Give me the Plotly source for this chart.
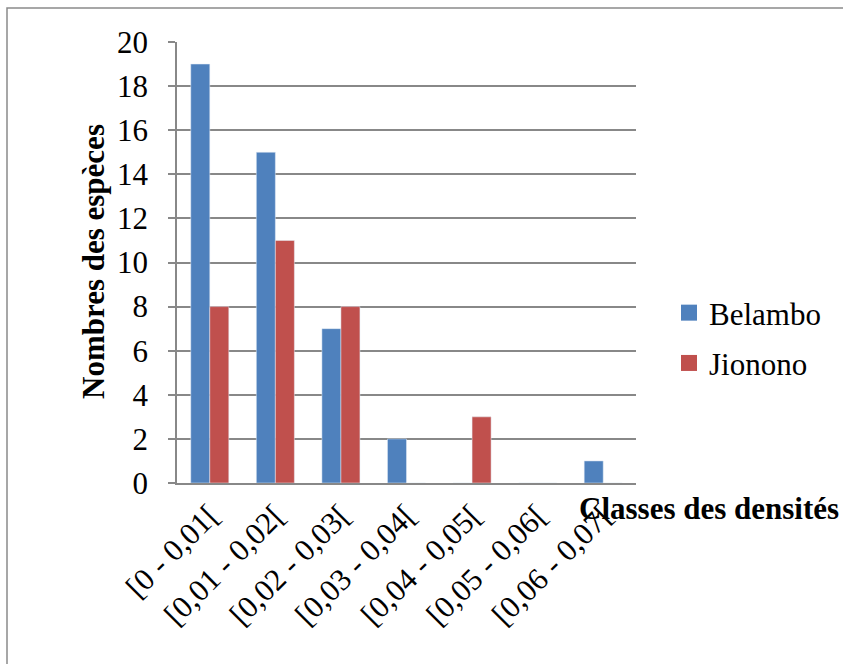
import plotly.graph_objects as go

# Density classes and species counts per site
classes = ["[0 - 0,01[", "[0,01 - 0,02[", "[0,02 - 0,03[", "[0,03 - 0,04[",
           "[0,04 - 0,05[", "[0,05 - 0,06[", "[0,06 - 0,07["]
belambo = [19, 15, 7, 2, 0, 0, 1]
jionono = [8, 11, 8, 0, 3, 0, 0]
y_ticks = [0, 2, 4, 6, 8, 10, 12, 14, 16, 18, 20]

BLUE = "#4F81BD"
RED = "#C0504D"
GRID = "#888888"
FONT = "Liberation Serif"
FS = 31

W, H = 843, 664
L, R, T, B = 177, 207, 42, 181
pw, ph = W - L - R, H - T - B


def px_x(x):
    return (x - L) / pw


def px_y(y):
    return (H - B - y) / ph


fig = go.Figure()
fig.add_trace(go.Bar(x=classes, y=belambo, name="Belambo", marker_color=BLUE,
                     showlegend=False))
fig.add_trace(go.Bar(x=classes, y=jionono, name="Jionono", marker_color=RED,
                     showlegend=False))
# Legend entries with larger square swatches
for name, col in [("Belambo", BLUE), ("Jionono", RED)]:
    fig.add_trace(go.Scatter(x=[None], y=[None], mode="markers", name=name,
                             legendgroup=name,
                             marker=dict(symbol="square", size=16, color=col)))

fig.update_layout(
    width=W, height=H,
    margin=dict(l=L, r=R, t=T, b=B),
    paper_bgcolor="white", plot_bgcolor="white",
    barmode="group", bargap=0.42, bargroupgap=0,
    font=dict(family=FONT, size=FS, color="black"),
    legend=dict(x=px_x(669), y=px_y(286), xanchor="left", yanchor="top",
                font=dict(family=FONT, size=FS), tracegroupgap=7,
                itemwidth=30, bgcolor="rgba(0,0,0,0)"),
    xaxis=dict(type="category", tickangle=-45, showgrid=False,
               showline=True, linecolor=GRID, linewidth=1.5,
               ticks="", tickfont=dict(family=FONT, size=FS)),
    yaxis=dict(range=[0, 20], tickvals=y_ticks, showgrid=True,
               gridcolor=GRID, gridwidth=1.5, zeroline=False,
               showline=True, linecolor=GRID, linewidth=1.5,
               ticks="outside", ticklen=7, tickcolor=GRID, tickwidth=1.5,
               ticklabelstandoff=14, tickfont=dict(family=FONT, size=FS)),
    annotations=[
        dict(text="<b>Nombres des espèces</b>", textangle=-90,
             x=px_x(93), y=px_y(262), xref="paper", yref="paper",
             xanchor="center", yanchor="middle",
             showarrow=False, font=dict(family=FONT, size=FS)),
        dict(text="<b>Classes des densités</b>",
             x=px_x(709), y=px_y(508), xref="paper", yref="paper",
             xanchor="center", yanchor="middle",
             showarrow=False, font=dict(family=FONT, size=FS)),
    ],
    shapes=[
        dict(type="rect", xref="paper", yref="paper",
             x0=px_x(7), x1=px_x(860), y0=px_y(680), y1=px_y(8),
             line=dict(color="#8a8a8a", width=1.5), layer="below"),
    ],
)

fig.write_html("out.html")
